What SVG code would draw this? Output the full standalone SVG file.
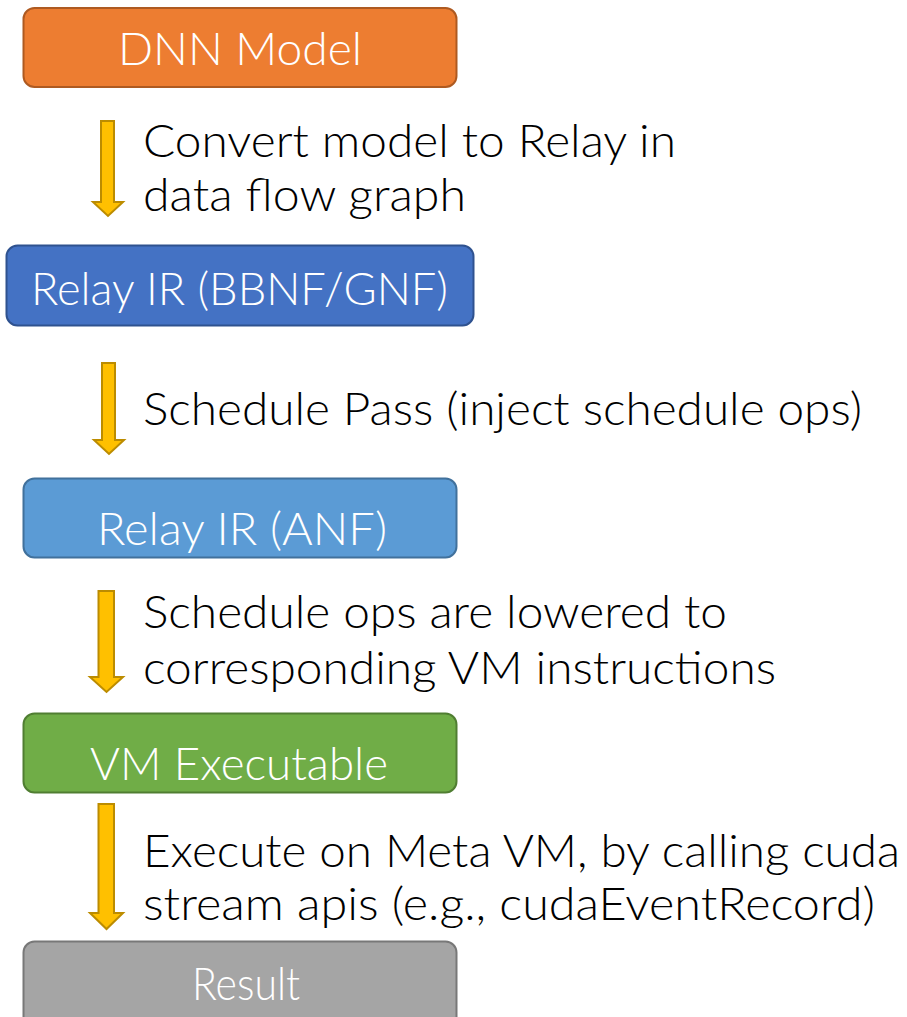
<svg xmlns="http://www.w3.org/2000/svg" width="907" height="1017" viewBox="0 0 907 1017">
<style>
.box{stroke-width:2}
.bt{font-family:Lato,"Open Sans",sans-serif;font-weight:300;font-size:45px;fill:#fff}
.lt{font-family:Lato,"Open Sans",sans-serif;font-weight:300;font-size:45px;fill:#000}
.arr{fill:#FFC000;stroke:#BC8C00;stroke-width:2;stroke-linejoin:miter}
</style>
<rect width="907" height="1017" fill="#fff"/>
<g id="dnn">
<rect class="box" x="23.5" y="8" width="433" height="79" rx="11" fill="#ED7D31" stroke="#AE5A21"/>
<text class="bt" x="118" y="65" textLength="244" lengthAdjust="spacingAndGlyphs">DNN Model</text>
</g>
<g id="relay-bbnf">
<rect class="box" x="6.5" y="245.5" width="467" height="80" rx="11" fill="#4472C4" stroke="#2F528F"/>
<text class="bt" x="31" y="305" textLength="417" lengthAdjust="spacingAndGlyphs">Relay IR (BBNF/GNF)</text>
</g>
<g id="relay-anf">
<rect class="box" x="23.5" y="478.5" width="433" height="79" rx="11" fill="#5B9BD5" stroke="#41719C"/>
<text class="bt" x="97" y="545" textLength="290" lengthAdjust="spacingAndGlyphs">Relay IR (ANF)</text>
</g>
<g id="vm">
<rect class="box" x="23.5" y="713.5" width="433" height="79" rx="11" fill="#70AD47" stroke="#507E32"/>
<text class="bt" x="90" y="780" textLength="298" lengthAdjust="spacingAndGlyphs">VM Executable</text>
</g>
<g id="result">
<rect class="box" x="23.5" y="941.5" width="433" height="90" rx="11" fill="#A5A5A5" stroke="#787878"/>
<text class="bt" x="192" y="1000" textLength="108" lengthAdjust="spacingAndGlyphs">Result</text>
</g>
<g id="connectors">
<path class="arr" d="M101,121 H114 V202 H123 L108,216 L93,202 H101 Z"/>
<path class="arr" d="M102,363 H115 V440 H124 L109,454 L94,440 H102 Z"/>
<path class="arr" d="M98.5,591 H114 V677 H123 L106.5,692 L90,677 H98.5 Z"/>
<path class="arr" d="M98.5,804 H114 V913 H123 L106.5,929 L90,913 H98.5 Z"/>
</g>
<g id="labels">
<text class="lt" x="143" y="157" textLength="533" lengthAdjust="spacingAndGlyphs">Convert model to Relay in</text>
<text class="lt" x="143" y="211" textLength="323" lengthAdjust="spacingAndGlyphs">data flow graph</text>
<text class="lt" x="143" y="425" textLength="719" lengthAdjust="spacingAndGlyphs">Schedule Pass (inject schedule ops)</text>
<text class="lt" x="143" y="628" textLength="584" lengthAdjust="spacingAndGlyphs">Schedule ops are lowered to</text>
<text class="lt" x="143" y="684" textLength="633" lengthAdjust="spacingAndGlyphs">corresponding VM instructions</text>
<text class="lt" x="143" y="867" textLength="757" lengthAdjust="spacingAndGlyphs">Execute on Meta VM, by calling cuda</text>
<text class="lt" x="143" y="920" textLength="732" lengthAdjust="spacingAndGlyphs">stream apis (e.g., cudaEventRecord)</text>
</g>
</svg>
